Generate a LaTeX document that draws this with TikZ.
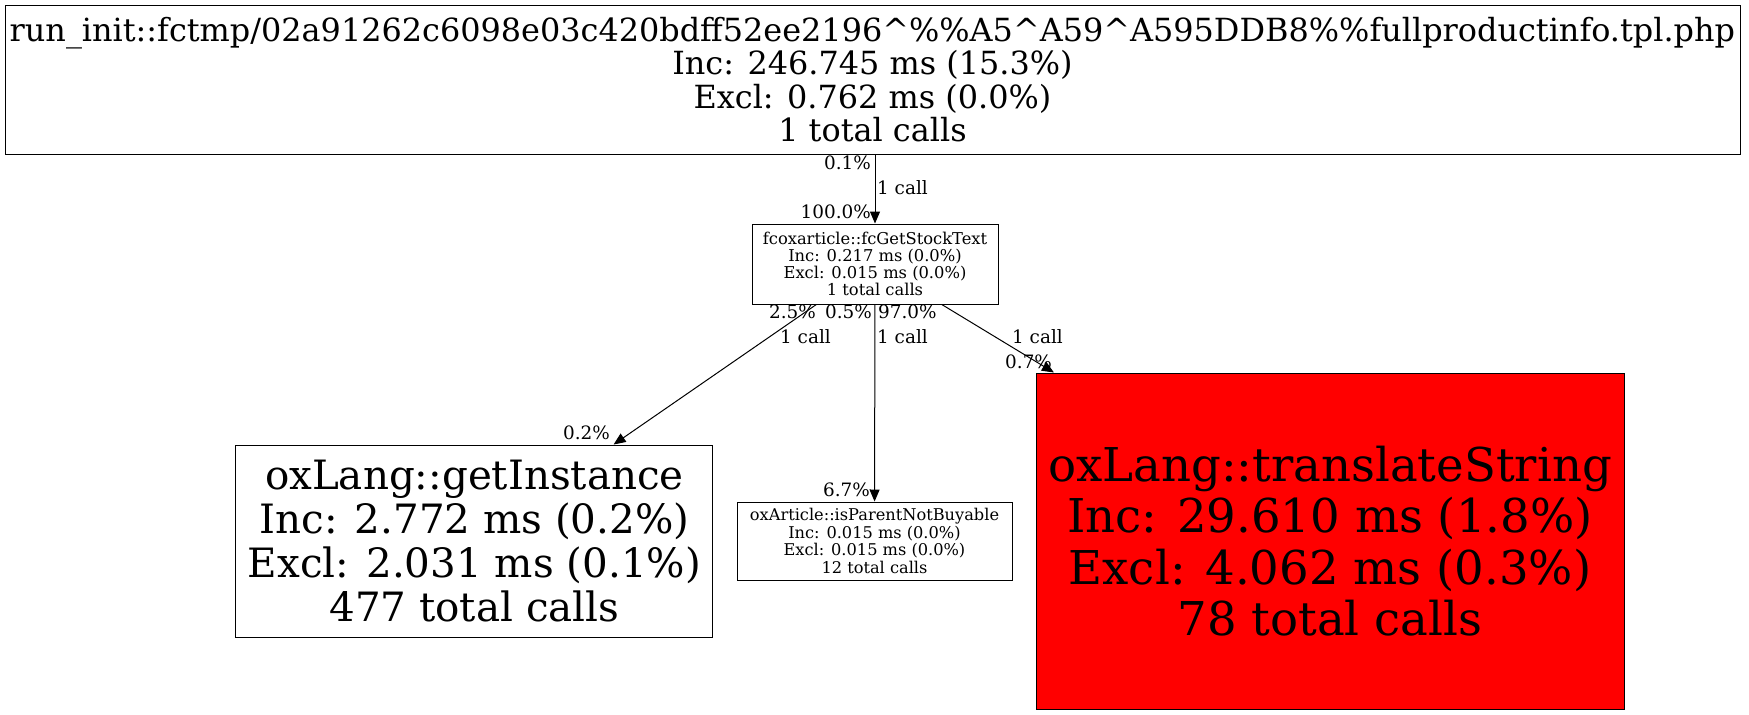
\documentclass[tikz,border=0pt]{standalone}
\usepackage{fontspec}
\setmainfont{DejaVu Serif}
\usetikzlibrary{arrows.meta}
\begin{document}
\begin{tikzpicture}[x=1pt,y=-1pt,
  box/.style={draw=black, line width=1pt, rectangle, inner sep=0pt, align=center},
  elabel/.style={inner sep=0pt, font=\fontsize{18.4}{20}\selectfont},
  conn/.style={line width=1pt, -{Triangle[length=12pt,width=10pt]}}]
\path[use as bounding box, fill=white] (0,0) rectangle (1749,715);
\node[box, minimum width=1735pt, minimum height=149pt, font=\fontsize{31.9}{33.4}\selectfont] (top) at (872.5,79.5)
  {run\_init::fctmp/02a91262c6098e03c420bdff52ee2196\textasciicircum\%\%A5\textasciicircum A59\textasciicircum A595DDB8\%\%fullproductinfo.tpl.php\\Inc: 246.745 ms (15.3\%)\\Excl: 0.762 ms (0.0\%)\\1 total calls};
\node[box, minimum width=246pt, minimum height=80pt, font=\fontsize{16.3}{17.2}\selectfont] (fc) at (875,264)
  {fcoxarticle::fcGetStockText\\Inc: 0.217 ms (0.0\%)\\Excl: 0.015 ms (0.0\%)\\1 total calls};
\node[box, minimum width=477pt, minimum height=192pt, font=\fontsize{40.4}{44}\selectfont] (gi) at (474.4,541)
  {oxLang::getInstance\\Inc: 2.772 ms (0.2\%)\\Excl: 2.031 ms (0.1\%)\\477 total calls};
\node[box, minimum width=275pt, minimum height=78pt, font=\fontsize{16.2}{17.6}\selectfont] (ip) at (874.5,541)
  {oxArticle::isParentNotBuyable\\Inc: 0.015 ms (0.0\%)\\Excl: 0.015 ms (0.0\%)\\12 total calls};
\node[box, fill=red, minimum width=588pt, minimum height=336pt, font=\fontsize{46.6}{51.5}\selectfont] (ts) at (1330,541)
  {oxLang::translateString\\Inc: 29.610 ms (1.8\%)\\Excl: 4.062 ms (0.3\%)\\78 total calls};

\draw[conn] (top.south -| fc.north) -- (fc.north);
\draw[conn] (fc) -- (gi);
\draw[conn] (fc) -- (ip);
\draw[conn] (fc) -- (ts);

\node[elabel, anchor=east] (l1) at (871,163) {0.1\%};
\node[elabel, anchor=west] (l2) at (877,188) {1 call};
\node[elabel, anchor=east] (l3) at (871,212) {100.0\%};
\node[elabel, anchor=east] (l4) at (816,312) {2.5\%};
\node[elabel, anchor=east] (l5) at (872,312) {0.5\%};
\node[elabel, anchor=west] (l6) at (878,312) {97.0\%};
\node[elabel, anchor=west] (l7) at (780,337) {1 call};
\node[elabel, anchor=west] (l8) at (877,337) {1 call};
\node[elabel, anchor=west] (l9) at (1012,337) {1 call};
\node[elabel, anchor=east] (l10) at (610,433) {0.2\%};
\node[elabel, anchor=east] (l11) at (870,490) {6.7\%};
\node[elabel, anchor=west] (l12) at (1005,362) {0.7\%};
\end{tikzpicture}
\end{document}
